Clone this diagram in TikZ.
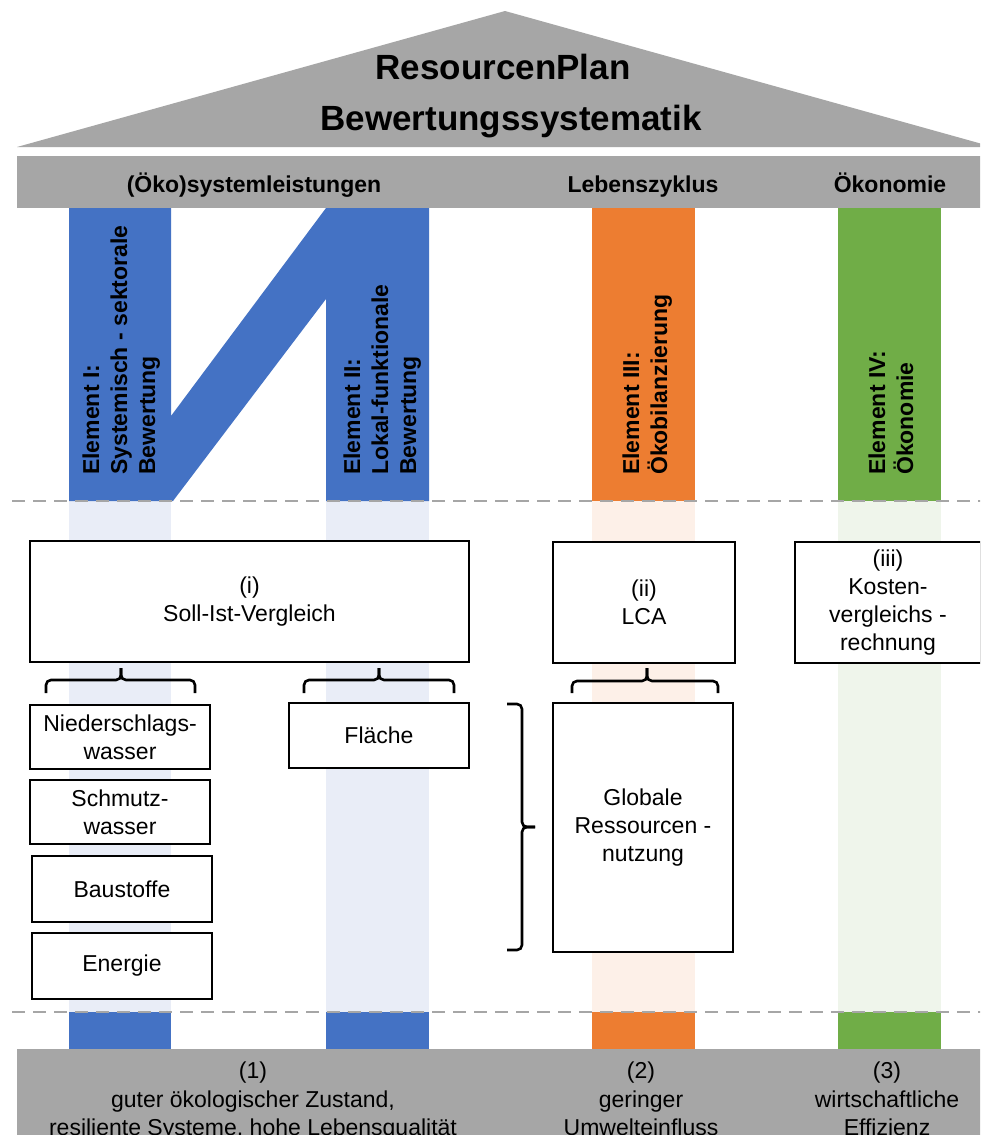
\documentclass[tikz,border=0pt]{standalone}
\usepackage{fontspec}
\setmainfont{Liberation Sans}
\definecolor{rgray}{HTML}{A6A6A6}
\definecolor{pblue}{HTML}{4472C4}
\definecolor{porange}{HTML}{ED7D31}
\definecolor{pgreen}{HTML}{70AD47}
\definecolor{lblue}{HTML}{E9EDF7}
\definecolor{lorange}{HTML}{FDF0E8}
\definecolor{lgreen}{HTML}{EFF5EB}
\tikzset{
  ptext/.style={rotate=90, anchor=base west, inner sep=0pt, font=\fontsize{23}{28}\selectfont\bfseries},
  bandtext/.style={anchor=base, inner sep=0pt, font=\fontsize{23}{28}\selectfont\bfseries},
  titletext/.style={anchor=base, inner sep=0pt, font=\fontsize{35}{42}\selectfont\bfseries},
  goaltext/.style={anchor=north, inner sep=0pt, align=center, font=\fontsize{23}{28.5}\selectfont},
  box/.style={draw=black, line width=2.6pt, fill=white, align=center, inner sep=0pt, font=\fontsize{23}{28}\selectfont},
  brace/.style={draw=black, line width=2.6pt, rounded corners=5pt},
  dashline/.style={draw=rgray, line width=2.5pt, dash pattern=on 13pt off 8pt}
}
\begin{document}
\begin{tikzpicture}[x=1pt,y=-1pt]
\useasboundingbox (0,0) rectangle (980,1135);
\clip (0,0) rectangle (980,1135);
\fill[white] (0,0) rectangle (980,1135);
% light pillar parts
\fill[lblue] (69,501) rectangle (171,1012);
\fill[lblue] (326,501) rectangle (429,1012);
\fill[lorange] (592,501) rectangle (695,1012);
\fill[lgreen] (838,501) rectangle (941,1012);
% solid pillar parts
\fill[pblue] (69,208) -- (171,208) -- (171,416) -- (326,208) -- (429,208) -- (429,501) -- (326,501) -- (326,299) -- (173,501) -- (69,501) -- cycle;
\fill[porange] (592,208) rectangle (695,501);
\fill[pgreen] (838,208) rectangle (941,501);
\fill[pblue] (69,1012) rectangle (171,1049);
\fill[pblue] (326,1012) rectangle (429,1049);
\fill[porange] (592,1012) rectangle (695,1049);
\fill[pgreen] (838,1012) rectangle (941,1049);
% dashed separators
\draw[dashline] (12,501) -- (985,501);
\draw[dashline] (12,1012) -- (985,1012);
% roof and bands
\fill[rgray] (17,147) -- (505,11) -- (993,147) -- cycle;
\fill[rgray] (17,156) rectangle (990,208);
\fill[rgray] (17,1049) rectangle (990,1140);
\node[titletext] (t1) at (503,79) {ResourcenPlan};
\node[titletext] (t2) at (511,130) {Bewertungssystematik};
\node[bandtext] (b1) at (254,192) {(Öko)systemleistungen};
\node[bandtext] (b2) at (643,192) {Lebenszyklus};
\node[bandtext] (b3) at (890,192) {Ökonomie};
% pillar texts
\node[ptext] (e1a) at (99,475) {Element I:};
\node[ptext] (e1b) at (127,475) {Systemisch - sektorale};
\node[ptext] (e1c) at (155,475) {Bewertung};
\node[ptext] (e2a) at (360,475) {Element II:};
\node[ptext] (e2b) at (388,475) {Lokal-funktionale};
\node[ptext] (e2c) at (416,475) {Bewertung};
\node[ptext] (e3a) at (639,475) {Element III:};
\node[ptext] (e3b) at (667,475) {Ökobilanzierung};
\node[ptext] (e4a) at (885,475) {Element IV:};
\node[ptext] (e4b) at (913,475) {Ökonomie};
% method boxes
\node[box, minimum width=439pt, minimum height=121pt] (soll) at (249.5,601.5) {(i)\\Soll-Ist-Vergleich};
\node[box, minimum width=182pt, minimum height=121pt] (lca) at (644,602.5) {(ii)\\LCA};
\node[box, minimum width=186pt, minimum height=121pt] (kvr) at (888,602.5) {(iii)\\Kosten-\\vergleichs -\\rechnung};
% braces
\draw[brace] (46,693) -- (46,680) -- (121,680) -- (121,668);
\draw[brace] (121,668) -- (121,680) -- (195,680) -- (195,693);
\draw[brace] (304,693) -- (304,680) -- (379,680) -- (379,668);
\draw[brace] (379,668) -- (379,680) -- (454,680) -- (454,693);
\draw[brace] (572,693) -- (572,681) -- (647,681) -- (647,668);
\draw[brace] (647,668) -- (647,681) -- (718,681) -- (718,693);
\draw[brace] (507,704) -- (522,704) -- (522,827) -- (535,827);
\draw[brace] (535,827) -- (522,827) -- (522,950) -- (507,950);
% resource boxes
\node[box, minimum width=180pt, minimum height=64pt] (nsw) at (120,737) {Niederschlags-\\wasser};
\node[box, minimum width=180pt, minimum height=64pt] (sw) at (120,812) {Schmutz-\\wasser};
\node[box, minimum width=180pt, minimum height=66pt] (bst) at (122,889) {Baustoffe};
\node[box, minimum width=180pt, minimum height=66pt] (en) at (122,966) {Energie};
\node[box, minimum width=180pt, minimum height=65pt] (fl) at (379,735.5) {Fläche};
\node[box, minimum width=180pt, minimum height=249pt] (grn) at (643,827.5) {Globale\\Ressourcen -\\nutzung};
% goals
\node[goaltext] (g1) at (253,1062) {(1)\\guter ökologischer Zustand,\\resiliente Systeme, hohe Lebensqualität};
\node[goaltext] (g2) at (641,1062) {(2)\\geringer\\Umwelteinfluss};
\node[goaltext] (g3) at (887,1062) {(3)\\wirtschaftliche\\Effizienz};
\end{tikzpicture}
\end{document}
